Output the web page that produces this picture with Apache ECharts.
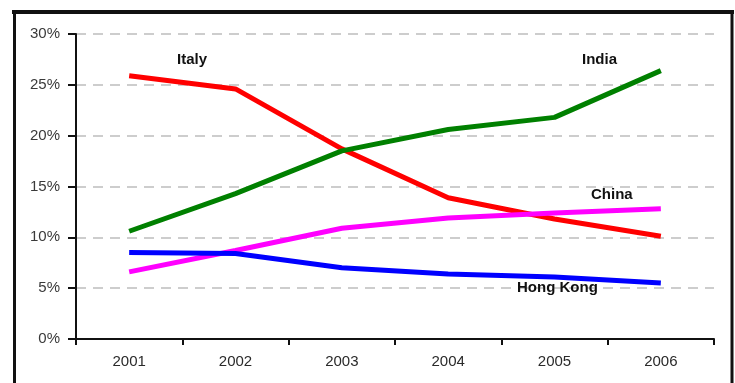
<!DOCTYPE html>
<html>
<head>
<meta charset="utf-8">
<script src="https://cdn.jsdelivr.net/npm/echarts@6/dist/echarts.min.js"></script>
<style>
  html, body { margin: 0; padding: 0; background: #fff; }
  #chart { width: 735px; height: 383px; }
</style>
</head>
<body>
<div id="chart"></div>
<script>
// Share by country, 2001-2006 (percent)
const years = ['2001', '2002', '2003', '2004', '2005', '2006'];
const italy = [25.9, 24.6, 18.7, 13.9, 11.8, 10.1];
const india = [10.6, 14.3, 18.5, 20.6, 21.8, 26.4];
const china = [6.6, 8.7, 10.9, 11.9, 12.4, 12.8];
const hongKong = [8.5, 8.4, 7.0, 6.4, 6.1, 5.5];

const yTicks = { min: 0, max: 30, interval: 5 };

const chart = echarts.init(document.getElementById('chart'));

const lineSeries = (name, data, color) => ({
  name: name,
  type: 'line',
  data: data,
  symbol: 'none',
  smooth: false,
  lineStyle: { color: color, width: 5 },
  itemStyle: { color: color },
  z: 3
});

const labelStyle = {
  fill: '#111',
  font: 'bold 15px "Liberation Sans", Arial, sans-serif'
};

chart.setOption({
  animation: false,
  backgroundColor: '#fff',
  grid: { left: 76, right: 21, top: 34, bottom: 44 },
  xAxis: {
    type: 'category',
    data: years,
    boundaryGap: true,
    axisLine: { lineStyle: { color: '#111', width: 2 } },
    axisTick: { show: true, length: 6, lineStyle: { color: '#111', width: 2 } },
    axisLabel: {
      color: '#2a2a2a', fontSize: 15, margin: 15,
      fontFamily: '"Liberation Sans", Arial, sans-serif'
    },
    splitLine: { show: false }
  },
  yAxis: {
    type: 'value',
    min: yTicks.min,
    max: yTicks.max,
    interval: yTicks.interval,
    axisLine: { show: true, lineStyle: { color: '#111', width: 2 } },
    axisTick: { show: true, length: 8, lineStyle: { color: '#111', width: 2 } },
    axisLabel: {
      formatter: '{value}%', color: '#3a3a3a', fontSize: 15, margin: 16,
      fontFamily: '"Liberation Sans", Arial, sans-serif'
    },
    splitLine: { show: true, lineStyle: { color: '#bdbdbd', width: 1.5, type: [10, 7] } }
  },
  series: [
    lineSeries('Italy', italy, '#ff0000'),
    lineSeries('India', india, '#008000'),
    lineSeries('China', china, '#ff00ff'),
    lineSeries('Hong Kong', hongKong, '#0000ff')
  ],
  graphic: [
    // outer frame
    { type: 'line', shape: { x1: 12, y1: 12, x2: 734, y2: 12 }, style: { stroke: '#111', lineWidth: 4 } },
    { type: 'line', shape: { x1: 14.5, y1: 12, x2: 14.5, y2: 383 }, style: { stroke: '#111', lineWidth: 3 } },
    { type: 'line', shape: { x1: 732, y1: 12, x2: 732, y2: 383 }, style: { stroke: '#111', lineWidth: 3 } },
    // series names
    { type: 'text', left: 177, top: 52, z: 10, style: Object.assign({ text: 'Italy' }, labelStyle) },
    { type: 'text', left: 582, top: 52, z: 10, style: Object.assign({ text: 'India' }, labelStyle) },
    { type: 'text', left: 591, top: 187, z: 10, style: Object.assign({ text: 'China' }, labelStyle) },
    { type: 'text', left: 517, top: 280, z: 10, style: Object.assign({ text: 'Hong Kong' }, labelStyle) }
  ]
});
</script>
</body>
</html>
